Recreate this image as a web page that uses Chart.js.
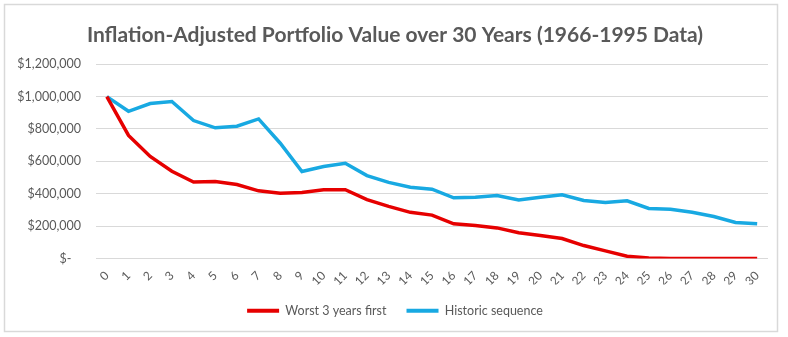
<!DOCTYPE html>
<html>
<head>
<meta charset="utf-8">
<script src="https://cdn.jsdelivr.net/npm/chart.js@4"></script>
<style>
  html, body { margin: 0; padding: 0; background: #fff; }
  #wrap { position: relative; width: 788px; height: 337px; }
</style>
</head>
<body>
<div id="wrap"><canvas id="portfolioChart" width="788" height="337"></canvas></div>
<script>
// --- Data ---
const years = Array.from({ length: 31 }, (_, i) => String(i));
const worstFirst = [1000000, 760000, 630000, 539000, 472000, 475000, 457000, 418000, 403000, 408000,
    425000, 425000, 364000, 322000, 285000, 268000, 214000, 204000, 189000, 159000,
    142000, 123000, 80000, 47000, 14000, 3000, 0, 0, 0, 0, 0];
const historic = [1000000, 909000, 957000, 970000, 852000, 807000, 817000, 862000, 712000, 537000,
    568000, 588000, 512000, 470000, 440000, 428000, 375000, 378000, 389000, 362000,
    378000, 393000, 358000, 346000, 356000, 309000, 304000, 286000, 259000, 222000, 214000];
const yTicks = [0, 200000, 400000, 600000, 800000, 1000000, 1200000];

const textGray = '#595959';
const gridGray = '#d9d9d9';

// frame around the chart, like the Excel chart area border
const framePlugin = {
    id: 'frame',
    beforeDraw(chart) {
        const ctx = chart.ctx;
        ctx.save();
        ctx.fillStyle = '#fff';
        ctx.fillRect(0, 0, chart.width, chart.height);
        ctx.strokeStyle = gridGray;
        ctx.lineWidth = 1.5;
        ctx.strokeRect(4.5, 4.5, 773, 327);
        ctx.restore();
    },
    // title and legend are centred on the whole canvas in the original
    afterLayout(chart) {
        const shift = 11;
        [chart.titleBlock, chart.legend].forEach(b => {
            if (b) { b.left += shift; b.right += shift; }
        });
    }
};

const ctx = document.getElementById('portfolioChart').getContext('2d');
new Chart(ctx, {
    type: 'line',
    data: {
        labels: years,
        datasets: [
            { label: 'Worst 3 years first', data: worstFirst, borderColor: '#e60000', backgroundColor: '#e60000', borderWidth: 3.5, pointRadius: 0, tension: 0 },
            { label: 'Historic sequence', data: historic, borderColor: '#18a9e2', backgroundColor: '#18a9e2', borderWidth: 3.5, pointRadius: 0, tension: 0 }
        ]
    },
    options: {
        responsive: false,
        animation: false,
        layout: { padding: { left: 0, right: 20, top: 8, bottom: 10 } },
        plugins: {
            title: {
                display: true,
                text: 'Inflation-Adjusted Portfolio Value over 30 Years (1966-1995 Data)',
                color: textGray,
                font: { family: 'Lato', size: 21, weight: 'bold' },
                padding: { top: 15, bottom: 16 }
            },
            legend: {
                position: 'bottom',
                labels: {
                    color: textGray,
                    font: { family: 'Lato', size: 12.5 },
                    boxWidth: 32,
                    boxHeight: 4,
                    padding: 20,
                    generateLabels(chart) {
                        return Chart.defaults.plugins.legend.labels.generateLabels(chart)
                            .map(item => Object.assign(item, { lineWidth: 0 }));
                    }
                }
            },
            tooltip: { enabled: false }
        },
        scales: {
            x: {
                offset: true,
                grid: { display: false },
                border: { display: false },
                ticks: { color: textGray, font: { family: 'Lato', size: 12 }, minRotation: 45, maxRotation: 45, autoSkip: false, padding: 2 },
                afterFit(scale) { scale.height = 26; }
            },
            y: {
                min: 0,
                max: 1200000,
                afterBuildTicks(scale) { scale.ticks = yTicks.map(v => ({ value: v })); },
                grid: { color: gridGray, lineWidth: 1, drawTicks: false },
                border: { display: false },
                ticks: {
                    color: textGray,
                    font: { family: 'Lato', size: 12.5 },
                    padding: 15,
                    callback: (v) => v === 0 ? '$-   ' : '$' + v.toLocaleString('en-US')
                },
                afterFit(scale) { scale.width = 96; }
            }
        }
    },
    plugins: [framePlugin]
});
</script>
</body>
</html>
